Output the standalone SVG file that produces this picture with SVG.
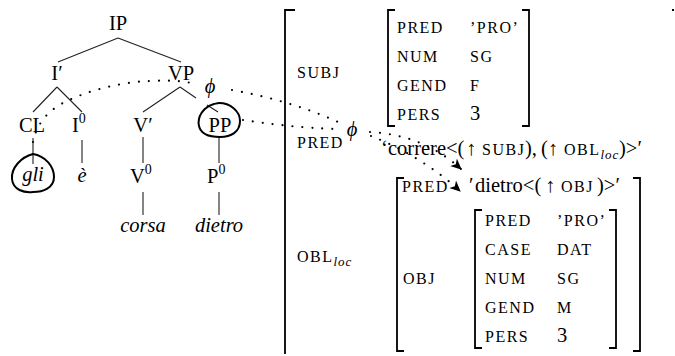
<svg xmlns="http://www.w3.org/2000/svg" width="675" height="356" viewBox="0 0 675 356">
  <style>
    text { font-family: "Liberation Serif", "Times New Roman", serif; font-size: 20.5px; fill: #000; }
    .mid { text-anchor: middle; }
    .it { font-style: italic; }
    .sc { font-size: 16px; letter-spacing: 1.5px; }
    .sub { font-size: 13px; font-style: italic; letter-spacing: 1px; }
    .sup { font-size: 14px; }
    .ln { stroke: #222; stroke-width: 1.1; fill: none; }
    .loop { stroke: #000; stroke-width: 2; fill: none; }
    .br { stroke: #000; stroke-width: 1.8; fill: none; }
    .dots { stroke: #000; stroke-width: 2.2; stroke-linecap: round; stroke-dasharray: 0 10; fill: none; }
  </style>
  <defs>
    <marker id="tip" markerUnits="userSpaceOnUse" markerWidth="14" markerHeight="12" refX="10" refY="5" orient="auto">
      <path d="M0,0 L11,5 L0,10 L3,5 Z" fill="#000"/>
    </marker>
  </defs>
  <rect width="675" height="356" fill="#fff"/>

  <!-- c-structure tree edges -->
  <g id="tree-edges">
    <path class="ln" d="M118,38 L58,62 M118,38 L181,62"/>
    <path class="ln" d="M57,87 L33,112 M57,87 L82,112"/>
    <path class="ln" d="M180,87 L143,112 M180,87 L196,98 M207,105 L218,112"/>
    <path class="ln" d="M33,138 L33,164 M82,140 L82,163 M143,137 L143,163 M219,137 L219,163"/>
    <path class="ln" d="M143,192 L143,215 M219,192 L219,215"/>
  </g>

  <!-- c-structure nodes -->
  <g id="n-IP"><text class="mid" x="118" y="30">IP</text></g>
  <g id="n-Ibar"><text class="mid" x="57" y="80">I′</text></g>
  <g id="n-VP"><text class="mid" x="181" y="80">VP</text></g>
  <g id="n-CL"><text class="mid" x="32" y="132">CL</text></g>
  <g id="n-I0"><text x="72" y="132">I<tspan class="sup" dy="-9">0</tspan></text></g>
  <g id="n-Vbar"><text class="mid" x="143" y="132">V′</text></g>
  <g id="n-PP">
    <path class="loop" d="M214,104 C203,107 197,117 199,126 C201,135 212,137 220,137 C231,137 240,132 240,121 C240,111 230,103 219,103 C217,103 215,104 214,104 Z"/>
    <text class="mid" x="220" y="132">PP</text>
  </g>
  <g id="n-gli">
    <path class="loop" d="M33,154 C21,157 11,168 12,179 C13,190 24,193 33,192 C43,192 54,188 54,177 C54,166 45,156 33,154 Z"/>
    <text class="mid it" x="33" y="181">gli</text>
  </g>
  <g id="n-e"><text class="mid it" x="82" y="182">è</text></g>
  <g id="n-V0"><text x="130" y="183">V<tspan class="sup" dy="-9">0</tspan></text></g>
  <g id="n-P0"><text x="207" y="183">P<tspan class="sup" dy="-9">0</tspan></text></g>
  <g id="n-corsa"><text class="mid it" x="143" y="232">corsa</text></g>
  <g id="n-dietro"><text class="mid it" x="219" y="232">dietro</text></g>

  <!-- f-structure -->
  <g id="f-main">
    <path class="br" d="M295,10 H285 V354"/>
    <rect x="672" y="9" width="2" height="2" fill="#000"/>
    <text class="sc" x="297" y="78">SUBJ</text>
    <text class="sc" x="297" y="148">PRED</text>
    <text x="381" y="155">‘<tspan x="388">correre&lt;(</tspan><tspan x="466">↑ </tspan><tspan class="sc" x="482">SUBJ</tspan><tspan x="525">), </tspan><tspan x="541">(↑ </tspan><tspan class="sc" x="564">OBL</tspan><tspan class="sub" dy="4">loc</tspan><tspan dy="-4" x="619">)&gt;′</tspan></text>
    <text class="sc" x="297" y="262">OBL<tspan class="sub" dy="4">loc</tspan></text>
  </g>
  <g id="f-subj">
    <path class="br" d="M395,10 H388 V126 H395 M522,10 H529 V126 H522"/>
    <text class="sc" x="397" y="33">PRED</text>
    <text class="sc" x="470" y="33">’PRO’</text>
    <text class="sc" x="397" y="62">NUM</text>
    <text class="sc" x="470" y="62">SG</text>
    <text class="sc" x="397" y="91">GEND</text>
    <text class="sc" x="470" y="91">F</text>
    <text class="sc" x="397" y="120">PERS</text>
    <text x="470" y="120">3</text>
  </g>
  <g id="f-obl">
    <path class="br" d="M404,178 H397 V351 H404 M633,178 H640 V351 H633"/>
    <text class="sc" x="402" y="192">PRED</text>
    <text x="469" y="192">′<tspan x="475">dietro&lt;(</tspan><tspan x="545">↑ </tspan><tspan class="sc" x="561" letter-spacing="2.5">OBJ</tspan><tspan x="597">)&gt;′</tspan></text>
    <text class="sc" x="403" y="284">OBJ</text>
  </g>
  <g id="f-obj">
    <path class="br" d="M482,210 H475 V348 H482 M609,210 H616 V348 H609"/>
    <text class="sc" x="485" y="226">PRED</text>
    <text class="sc" x="557" y="226">’PRO’</text>
    <text class="sc" x="485" y="255">CASE</text>
    <text class="sc" x="557" y="255">DAT</text>
    <text class="sc" x="485" y="284">NUM</text>
    <text class="sc" x="557" y="284">SG</text>
    <text class="sc" x="485" y="313">GEND</text>
    <text class="sc" x="557" y="313">M</text>
    <text class="sc" x="485" y="342">PERS</text>
    <text x="557" y="342">3</text>
  </g>

  <!-- phi correspondence arrows -->
  <g id="phi-links">
    <path class="dots" d="M33,142 C36,126 46,112 63,103 C86,91 120,82 150,81 C170,80 184,81 196,84"/>
    <text class="it mid" x="210" y="93">ϕ</text>
    <path class="dots" d="M232,90 C270,97 305,107 338,122"/>
    <path class="dots" d="M371,136 C402,148 435,168 460,191" marker-end="url(#tip)"/>
    <path class="dots" d="M243,120 C270,124 300,128 338,129"/>
    <text class="it mid" x="352" y="136">ϕ</text>
    <path class="dots" d="M370,132 C402,134 432,143 461,169" marker-end="url(#tip)"/>
  </g>
</svg>
